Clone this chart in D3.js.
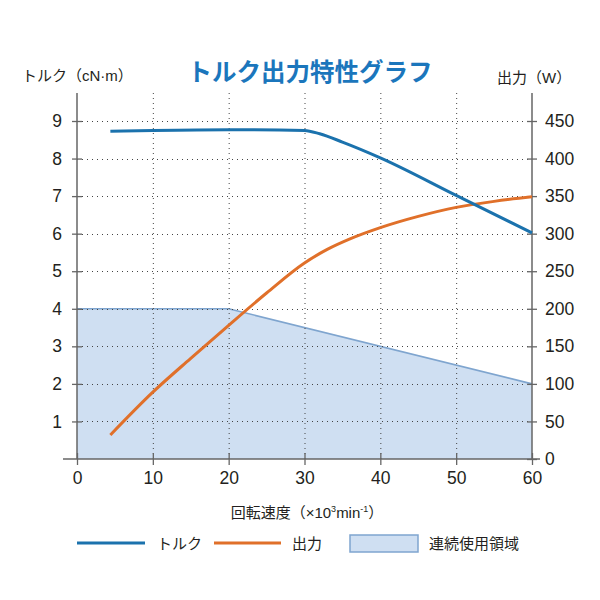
<!DOCTYPE html>
<html><head><meta charset="utf-8">
<script src="https://cdn.jsdelivr.net/npm/d3@7"></script>
<style>
body{margin:0;background:#fff;}
text{font-family:"Liberation Sans","Noto Sans CJK JP",sans-serif;fill:#231f20;}
</style></head><body>
<svg id="c" width="600" height="600"></svg>
<script>
const speed = [4.4, 10, 20, 30, 32, 35, 40, 50, 60];
const torque = [8.73, 8.75, 8.77, 8.75, 8.66, 8.44, 8.02, 7.02, 6.02];
const powerSpeed = [4.4, 10, 15, 20, 25, 30, 33, 36, 40, 45, 50, 55, 60];
const power = [32, 89, 134, 178, 221, 261, 279, 293, 308, 323, 335, 343, 349];
const areaSpeed = [0, 20, 60];
const areaTorque = [4, 4, 2];
const xTicks = [0, 10, 20, 30, 40, 50, 60];
const yLeftTicks = [1, 2, 3, 4, 5, 6, 7, 8, 9];
const yRightTicks = [0, 50, 100, 150, 200, 250, 300, 350, 400, 450];

const svg = d3.select("#c");
const x = d3.scaleLinear().domain([0, 60]).range([77, 532]);
const yL = d3.scaleLinear().domain([0, 9]).range([459, 121]);
const yR = d3.scaleLinear().domain([0, 450]).range([459, 121]);
const topY = 93;
const blue = "#1b72ad", orange = "#e0702a";

// area
svg.append("path")
  .datum(areaSpeed.map((s, i) => [s, areaTorque[i]]))
  .attr("d", d3.area().x(d => x(d[0])).y0(yL(0)).y1(d => yL(d[1])))
  .attr("fill", "#cfdff2");
svg.append("path")
  .datum(areaSpeed.map((s, i) => [s, areaTorque[i]]))
  .attr("d", d3.line().x(d => x(d[0])).y(d => yL(d[1])))
  .attr("fill", "none").attr("stroke", "#7fa5cf").attr("stroke-width", 1.6);

// grid
const g = svg.append("g").attr("stroke", "#444").attr("stroke-width", 1).attr("stroke-dasharray", "1,4");
xTicks.slice(1, -1).forEach(t => g.append("line").attr("x1", x(t)+0.5).attr("x2", x(t)+0.5).attr("y1", topY).attr("y2", yL(0)));
yLeftTicks.forEach(t => g.append("line").attr("x1", x(0)).attr("x2", x(60)).attr("y1", Math.round(yL(t))+0.5).attr("y2", Math.round(yL(t))+0.5));

// axes
const axCol = "#666";
const xAxis = svg.append("g").attr("transform", `translate(0,${yL(0)})`)
  .call(d3.axisBottom(x).tickValues(xTicks).tickSize(0).tickPadding(13));
xAxis.select(".domain").remove();
xAxis.append("line").attr("x1", 63).attr("x2", 540).attr("stroke", axCol).attr("stroke-width", 1.5);
xAxis.selectAll(".tick").append("line").attr("y1", -6).attr("y2", 6).attr("stroke", axCol).attr("stroke-width", 1.3);
xAxis.selectAll("text").attr("font-size", 17.5).attr("fill", "#231f20").attr("font-family", "Liberation Sans");

const lAxis = svg.append("g").attr("transform", `translate(${x(0)},0)`)
  .call(d3.axisLeft(yL).tickValues(yLeftTicks).tickSize(0).tickPadding(15));
lAxis.select(".domain").remove();
lAxis.append("line").attr("y1", topY).attr("y2", yL(0)).attr("stroke", axCol).attr("stroke-width", 1.5);
lAxis.selectAll(".tick").append("line").attr("x1", -5).attr("x2", 5).attr("stroke", axCol).attr("stroke-width", 1.3);
lAxis.selectAll("text").attr("font-size", 17.5).attr("fill", "#231f20").attr("font-family", "Liberation Sans");

const rAxis = svg.append("g").attr("transform", `translate(${x(60)},0)`)
  .call(d3.axisRight(yR).tickValues(yRightTicks).tickSize(0).tickPadding(13));
rAxis.select(".domain").remove();
rAxis.append("line").attr("y1", topY).attr("y2", yL(0)).attr("stroke", axCol).attr("stroke-width", 1.5);
rAxis.selectAll(".tick").append("line").attr("x1", -5).attr("x2", 5).attr("stroke", axCol).attr("stroke-width", 1.3);
rAxis.selectAll("text").attr("font-size", 17.5).attr("fill", "#231f20").attr("font-family", "Liberation Sans");

// lines
svg.append("path")
  .datum(powerSpeed.map((s, i) => [s, power[i]]))
  .attr("d", d3.line().curve(d3.curveMonotoneX).x(d => x(d[0])).y(d => yR(d[1])))
  .attr("fill", "none").attr("stroke", orange).attr("stroke-width", 3);
svg.append("path")
  .datum(speed.map((s, i) => [s, torque[i]]))
  .attr("d", d3.line().curve(d3.curveMonotoneX).x(d => x(d[0])).y(d => yL(d[1])))
  .attr("fill", "none").attr("stroke", blue).attr("stroke-width", 3);

// titles
svg.append("text").attr("x", 310).attr("y", 81).attr("text-anchor", "middle")
  .attr("font-family", "Noto Sans CJK JP")
  .attr("font-size", 24.5).attr("font-weight", "bold").style("fill", "#1b76bc").text("トルク出力特性グラフ");
svg.append("text").attr("x", 22).attr("y", 81).attr("font-size", 15).text("トルク（cN·m）");
svg.append("text").attr("x", 497).attr("y", 83).attr("font-size", 15).text("出力（W）");
const xt = svg.append("text").attr("x", 307).attr("y", 518).attr("text-anchor", "middle").attr("font-size", 15);
xt.append("tspan").text("回転速度（×10");
xt.append("tspan").attr("font-size", 9).attr("dy", -6).text("3");
xt.append("tspan").attr("dy", 6).text("min");
xt.append("tspan").attr("font-size", 9).attr("dy", -6).text("-1");
xt.append("tspan").attr("dy", 6).text("）");

// legend
const ly = 543;
svg.append("line").attr("x1", 77).attr("x2", 145).attr("y1", ly).attr("y2", ly).attr("stroke", blue).attr("stroke-width", 3);
svg.append("text").attr("x", 157).attr("y", ly + 6).attr("font-size", 15).text("トルク");
svg.append("line").attr("x1", 214).attr("x2", 281).attr("y1", ly).attr("y2", ly).attr("stroke", orange).attr("stroke-width", 3);
svg.append("text").attr("x", 292).attr("y", ly + 6).attr("font-size", 15).text("出力");
svg.append("rect").attr("x", 350).attr("y", 535).attr("width", 68).attr("height", 17).attr("fill", "#cfdff2").attr("stroke", "#7fa5cf").attr("stroke-width", 1.5);
svg.append("text").attr("x", 429).attr("y", ly + 6).attr("font-size", 15).text("連続使用領域");
</script></body></html>
